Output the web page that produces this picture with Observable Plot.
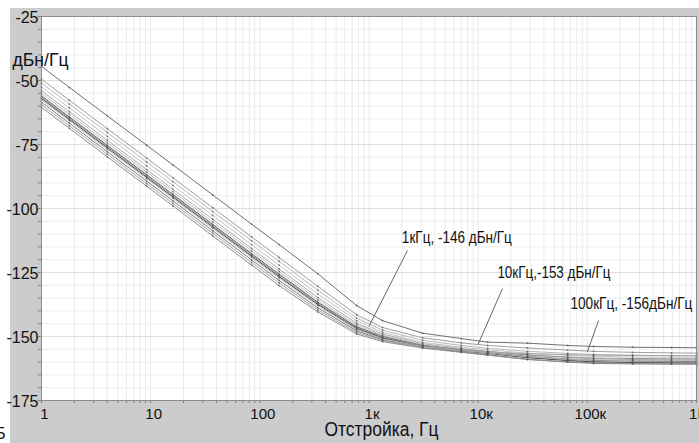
<!DOCTYPE html>
<html>
<head>
<meta charset="utf-8">
<script src="https://cdn.jsdelivr.net/npm/d3@7"></script>
<script src="https://cdn.jsdelivr.net/npm/@observablehq/plot@0.6"></script>
<style>
  body { margin: 0; background: #fff; font-family: "Liberation Sans", Arial, sans-serif; }
  #wrap { position: relative; width: 699px; height: 443px; overflow: hidden; }
  #panel { position: absolute; left: 10px; top: 8px; width: 689px; height: 435px; background: #cccccc; }
  #chart { position: absolute; left: 0; top: 0; }
  #chart svg { background: transparent; overflow: visible; }
  #stray { position: absolute; left: -4px; top: 424px; font-size: 17px; color: #111; }
</style>
</head>
<body>
<div id="wrap">
  <div id="panel"></div>
  <div id="chart"></div>
  <div id="stray">5</div>
</div>
<script>
// Offset frequencies (Hz) at which every trace is sampled
const freqs = [1, 1.8, 4, 9.2, 16, 37, 84, 150, 340, 770, 1330, 3100, 7000, 12200, 28300, 66000, 114000, 260000, 590000, 1000000];

// Phase-noise traces, dBc/Hz at each offset above
const traceTop = [-44.5, -52.7, -63.8, -75.3, -83.0, -94.7, -106.1, -114.1, -125.5, -137.9, -143.8, -148.7, -150.8, -152.2, -152.6, -153.5, -153.9, -154.2, -154.3, -154.4];
const trace01 = [-49.5, -57.7, -68.8, -80.3, -88.0, -99.7, -111.1, -119.1, -130.4, -141.5, -146.5, -150.5, -152.5, -153.5, -154.5, -155.3, -155.8, -156.2, -156.4, -156.5];
const trace02 = [-51.0, -59.2, -70.3, -81.8, -89.5, -101.2, -112.6, -120.6, -131.9, -142.8, -147.5, -151.5, -153.5, -154.6, -155.8, -156.6, -157.0, -157.3, -157.5, -157.5];
const trace03 = [-52.5, -60.7, -71.8, -83.3, -91.0, -102.7, -114.1, -122.1, -133.4, -143.8, -148.3, -152.3, -154.2, -155.2, -156.5, -157.3, -157.7, -158.0, -158.1, -158.1];
const trace04 = [-54.0, -62.2, -73.3, -84.8, -92.5, -104.2, -115.6, -123.6, -134.8, -144.8, -149.0, -152.8, -154.7, -155.8, -157.2, -158.2, -158.7, -159.0, -159.1, -159.1];
const trace05 = [-55.0, -63.2, -74.3, -85.8, -93.5, -105.2, -116.6, -124.6, -135.7, -145.5, -149.5, -153.2, -155.2, -156.4, -158.0, -159.2, -159.8, -160.2, -160.4, -160.5];
const trace06 = [-56.0, -64.2, -75.3, -86.8, -94.5, -106.2, -117.6, -125.6, -136.6, -146.2, -150.0, -153.5, -155.3, -156.3, -157.8, -158.8, -159.3, -159.6, -159.7, -159.7];
const trace07 = [-56.5, -64.7, -75.8, -87.3, -95.0, -106.7, -118.1, -126.1, -137.0, -146.6, -150.3, -153.6, -155.0, -155.9, -157.2, -158.0, -158.4, -158.6, -158.7, -158.7];
const trace08 = [-57.0, -65.2, -76.3, -87.8, -95.5, -107.2, -118.6, -126.6, -137.5, -146.9, -150.6, -154.0, -155.6, -156.6, -158.3, -159.4, -159.9, -160.2, -160.3, -160.3];
const trace09 = [-57.5, -65.7, -76.8, -88.3, -96.0, -107.7, -119.1, -127.1, -137.9, -147.2, -150.9, -154.0, -155.5, -156.4, -157.9, -158.8, -159.2, -159.4, -159.5, -159.5];
const trace10 = [-58.5, -66.7, -77.8, -89.3, -97.0, -108.7, -120.1, -128.1, -138.8, -147.8, -151.3, -154.3, -156.0, -157.1, -158.9, -160.0, -160.5, -160.7, -160.8, -160.8];
const trace11 = [-59.5, -67.7, -78.8, -90.3, -98.0, -109.7, -121.1, -129.1, -139.6, -148.4, -151.6, -154.2, -155.4, -156.0, -156.7, -157.1, -157.3, -157.4, -157.5, -157.5];
const trace12 = [-60.5, -68.7, -79.8, -91.3, -99.0, -110.7, -122.1, -130.1, -140.4, -149.0, -152.0, -154.5, -156.2, -157.3, -159.0, -159.9, -160.3, -160.5, -160.6, -160.6];

const traces = [traceTop, trace01, trace02, trace03, trace04, trace05, trace06, trace07, trace08, trace09, trace10, trace11, trace12];

// Axis ticks and labels
const decadeTicks = [1, 10, 100, 1e3, 1e4, 1e5, 1e6];
const decadeLabels = ["1", "10", "100", "1к", "10к", "100к", "1M"];
const levelTicks = [-25, -50, -75, -100, -125, -150, -175];
const yTitle = "дБн/Гц";
const xTitle = "Отстройка, Гц";

// Spot values called out on the chart
const noteFreq = [1000, 10000, 100000];
const noteLevel = [-146, -153, -156];
const noteText = ["1кГц, -146 дБн/Гц", "10кГц,-153 дБн/Гц", "100кГц, -156дБн/Гц"];

// ---- presentation ----
const traceColors = ["#707070", "#a0a0a0", "#b8b8b8", "#c4c4c4", "#acacac", "#c0c0c0", "#606060",
                     "#959595", "#484848", "#b4b4b4", "#7c7c7c", "#a6a6a6", "#8e8e8e"];
// where each callout's text sits and where its leader starts (data coordinates)
const noteLabelAt = [[2000, -111.5], [15000, -125], [70000, -137.2]];
const noteLeaderFrom = [[2250, -116.4], [16700, -131.3], [126500, -143.8]];
const textWidths = new Map([[yTitle, 56], [xTitle, 114], [noteText[0], 110], [noteText[1], 113], [noteText[2], 122]]);

const minorX = [];
for (let d = 1; d < 1e6; d *= 10) for (let k = 1; k <= 9; k++) minorX.push(d * k);
minorX.push(1e6);
const gridY = d3.range(-175, -24, 5);

const rows = traces.map(t => freqs.map((f, j) => ({f, v: t[j]})));
const notes = noteFreq.map((f, i) => ({
  f, v: noteLevel[i], text: noteText[i],
  lx: noteLabelAt[i][0], ly: noteLabelAt[i][1],
  sx: noteLeaderFrom[i][0], sy: noteLeaderFrom[i][1]
}));

const font = "'Liberation Sans', Arial, sans-serif";

const chart = Plot.plot({
  width: 699,
  height: 443,
  marginLeft: 41,
  marginRight: 3,
  marginTop: 16,
  marginBottom: 43,
  x: {type: "log", domain: [1, 1e6]},
  y: {domain: [-175, -25]},
  style: {fontFamily: font, background: "transparent", color: "#111"},
  marks: [
    Plot.frame({fill: "white"}),
    Plot.ruleX(minorX, {stroke: "#ebebeb", strokeWidth: 1}),
    Plot.ruleY(gridY, {stroke: "#efefef", strokeWidth: 1}),
    Plot.ruleY(levelTicks, {stroke: "#dedede", strokeWidth: 1}),
    Plot.axisY(gridY, {tickSize: 3, tickFormat: () => "", stroke: "#808080", label: null}),
    Plot.axisY({ticks: levelTicks, tickFormat: d => String(d), tickSize: 0, tickPadding: 3,
                fontSize: 16, dy: 1, label: null}),
    Plot.axisX(minorX, {tickSize: 3, tickFormat: () => "", stroke: "#808080", label: null}),
    Plot.axisX({ticks: decadeTicks, tickFormat: d => decadeLabels[decadeTicks.indexOf(d)],
                tickSize: 0, tickPadding: 8, fontSize: 15, dx: 3, label: null}),
    ...rows.map((r, i) => Plot.line(r, {x: "f", y: "v", stroke: traceColors[i], strokeWidth: 1})),
    ...rows.map(r => Plot.dot(r, {x: "f", y: "v", r: 0.9, fill: "#555", fillOpacity: 0.8})),
    Plot.frame({stroke: "#8c8c8c"}),
    Plot.link(notes, {x1: "sx", y1: "sy", x2: "f", y2: "v", stroke: "#555", strokeWidth: 0.9}),
    Plot.text(notes, {x: "lx", y: "ly", text: "text", textAnchor: "start", fontSize: 17, fill: "#111"}),
    Plot.text([yTitle], {frameAnchor: "top-left", textAnchor: "start", dx: -29, dy: 36, fontSize: 19, fill: "#111"}),
    Plot.text([xTitle], {frameAnchor: "bottom", dx: 12.5, dy: 35, fontSize: 20, fill: "#111"})
  ]
});

chart.querySelectorAll("text").forEach(t => {
  const w = textWidths.get(t.textContent);
  if (w) {
    t.setAttribute("textLength", w);
    t.setAttribute("lengthAdjust", "spacingAndGlyphs");
  }
});

document.getElementById("chart").append(chart);
</script>
</body>
</html>
